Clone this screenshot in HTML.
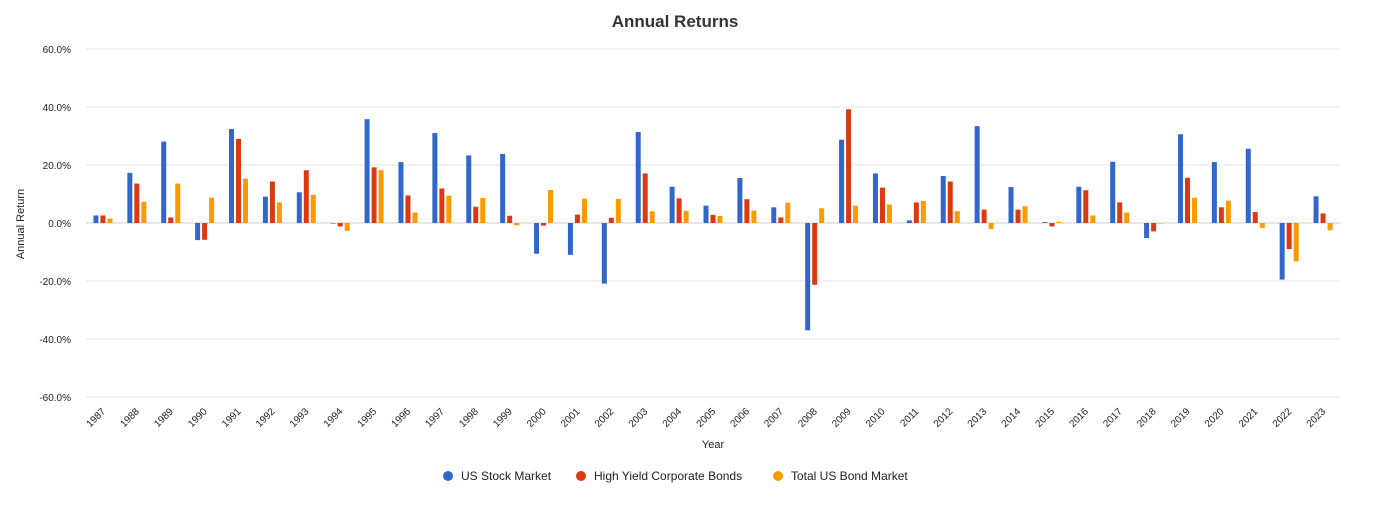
<!DOCTYPE html>
<html><head><meta charset="utf-8"><style>
body{margin:0;background:#fff;font-family:"Liberation Sans",Arial,sans-serif}
svg text{font-family:"Liberation Sans",Arial,sans-serif}
</style></head><body>
<svg id="chart" width="1396" height="505" xmlns="http://www.w3.org/2000/svg">
<text x="675" y="27" text-anchor="middle" font-size="17" font-weight="bold" fill="#333">Annual Returns</text>
<g id="grid"></g><g id="bars"></g><g id="xlabels"></g>
<text transform="translate(24,224) rotate(-90)" text-anchor="middle" font-size="11" fill="#222">Annual Return</text>
<text x="713" y="448" text-anchor="middle" font-size="11" fill="#222">Year</text>
<g font-size="12" fill="#222">
<g><circle cx="448" cy="476" r="5" fill="#3366cc"/><text x="461" y="480">US Stock Market</text></g>
<g><circle cx="581" cy="476" r="5" fill="#dc3912"/><text x="594" y="480">High Yield Corporate Bonds</text></g>
<g><circle cx="778" cy="476" r="5" fill="#ff9900"/><text x="791" y="480">Total US Bond Market</text></g>
</g>
</svg>
<script>
const years=[1987,1988,1989,1990,1991,1992,1993,1994,1995,1996,1997,1998,1999,2000,2001,2002,2003,2004,2005,2006,2007,2008,2009,2010,2011,2012,2013,2014,2015,2016,2017,2018,2019,2020,2021,2022,2023];
const usStock=[2.6,17.3,28.1,-5.9,32.4,9.1,10.6,-0.2,35.8,21.0,31.0,23.3,23.8,-10.6,-11.0,-20.9,31.4,12.5,6.0,15.5,5.4,-37.0,28.7,17.1,0.9,16.2,33.4,12.4,0.3,12.5,21.1,-5.2,30.6,21.0,25.6,-19.5,9.2];
const highYield=[2.6,13.6,1.9,-5.8,29.0,14.3,18.2,-1.2,19.2,9.5,11.9,5.6,2.5,-0.9,2.9,1.8,17.1,8.5,2.8,8.2,1.9,-21.3,39.2,12.2,7.1,14.3,4.6,4.6,-1.2,11.3,7.1,-2.9,15.6,5.4,3.8,-9.0,3.3];
const totalBond=[1.5,7.3,13.6,8.7,15.3,7.1,9.7,-2.7,18.2,3.6,9.4,8.6,-0.8,11.4,8.4,8.3,4.0,4.2,2.4,4.3,7.0,5.1,6.0,6.4,7.6,4.1,-2.1,5.8,0.4,2.6,3.6,-0.1,8.7,7.7,-1.7,-13.2,-2.5];
const yTicks=[60,40,20,0,-20,-40,-60];
const NS="http://www.w3.org/2000/svg";
const L=86,R=1340,T=49,B=397;
const y=v=>T+(60-v)/120*(B-T);
const bw=(R-L)/years.length;
const xc=i=>L+bw*(i+0.5);
function mk(tag,attrs,parent){const e=document.createElementNS(NS,tag);for(const k in attrs)e.setAttribute(k,attrs[k]);parent.appendChild(e);return e;}
const grid=document.getElementById('grid');
yTicks.forEach(t=>{
 const ln=mk('line',{x1:L,x2:R,y1:y(t),y2:y(t),stroke:t===0?'#ccc':'#e6e6e6','stroke-width':1},grid);
 
 
 const tx=mk('text',{x:71,y:y(t)+4,'text-anchor':'end','font-size':10,fill:'#222'},grid);
 tx.textContent=t.toFixed(1)+'%';
 
 
});
const bars=document.getElementById('bars');
const series=[[usStock,'#3366cc',-7,'bar-us-stock'],[highYield,'#dc3912',0,'bar-high-yield'],[totalBond,'#ff9900',7,'bar-total-bond']];
years.forEach((yr,i)=>{
 series.forEach(([arr,col,off,nm])=>{
  const v=arr[i];const y0=y(0),y1=y(v);
  const r=mk('rect',{x:xc(i)+off-2.5,y:Math.min(y0,y1),width:5,height:Math.max(Math.abs(y1-y0),0.5),fill:col},bars);
  
  
 });
 const lx=xc(i)+3,ly=412;
 const t=mk('text',{x:lx,y:ly,'text-anchor':'end','font-size':10,fill:'#222',transform:`rotate(-45 ${lx} ${ly})`},document.getElementById('xlabels'));
 t.textContent=yr;
 
 
});
</script>
</body></html>
